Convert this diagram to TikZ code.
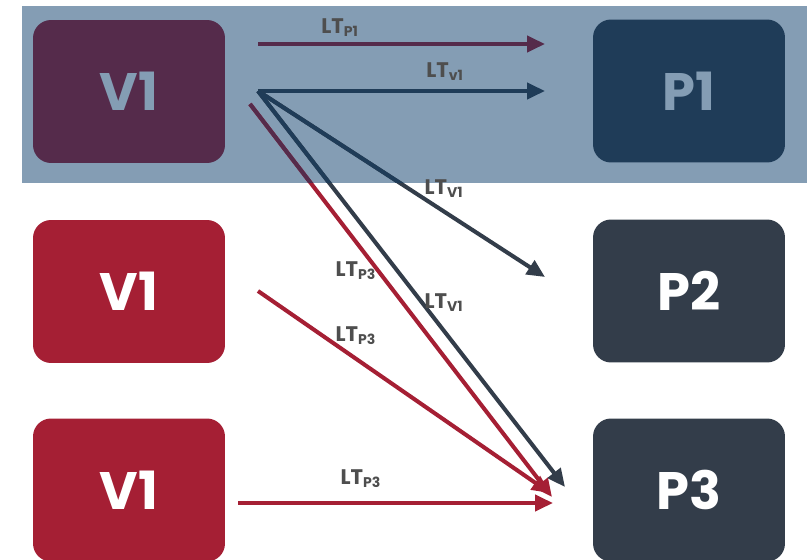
\documentclass[tikz,border=0pt]{standalone}
\usepackage{fontspec}
\setmainfont{Poppins}
\usepackage{tikz}
\usetikzlibrary{arrows.meta,positioning}
\definecolor{bandblue}{HTML}{849DB4}
\definecolor{vplum}{HTML}{552B4B}
\definecolor{pnavy}{HTML}{1F3C58}
\definecolor{vred}{HTML}{A51F34}
\definecolor{pslate}{HTML}{333D4A}
\definecolor{labelgray}{HTML}{4E4E4E}

\begin{document}
\begin{tikzpicture}[
        x=0.02cm, y=-0.02cm,
        box/.style={rounded corners=0.36cm, minimum width=3.84cm, minimum height=2.86cm, inner sep=0pt, text=white, font=\fontsize{30}{30}\selectfont\bfseries},
        lt/.style={text=labelgray, font=\fontsize{12}{12}\selectfont\bfseries, inner sep=1pt},
        link/.style={line width=2.3pt, -{Triangle[length=0.36cm, width=0.32cm]}}
    ]
        \useasboundingbox (0,0) rectangle (807,560);

        % Top band
        \coordinate (bandA) at (22,6);
        \coordinate (bandB) at (807,183);
        \fill[bandblue] (bandA) rectangle (bandB);

        % Vendor boxes
        \node[box, fill=vplum, text=bandblue] (vTop) at (129,91.5) {V1};
        \node[box, fill=vred] (vMid) at (129,291.5) {V1};
        \node[box, fill=vred] (vLow) at (129,490) {V1};

        % Plant boxes
        \node[box, fill=pnavy, text=bandblue] (pOne) at (689,91) {P1};
        \node[box, fill=pslate] (pTwo) at (689,291) {P2};
        \node[box, fill=pslate] (pThree) at (689,490) {P3};

        % Arrow ends
        \coordinate (sP1) at (258,44);   \coordinate (eP1) at (545,44);
        \coordinate (sV1) at (258,91);   \coordinate (eV1) at (545,91);
        \coordinate (eV2) at (545,277);  \coordinate (eV3) at (565,487);
        \coordinate (sR1) at (250,104);  \coordinate (eR1) at (552,497);
        \coordinate (sR2) at (258,291);  \coordinate (eR2) at (550,493);
        \coordinate (sR3) at (238,503);  \coordinate (eR3) at (553,503);

        % Lead times
        \draw[link, vplum] (sP1) -- (eP1);
        \draw[link, pnavy] (sV1) -- (eV1);
        \draw[link, pslate] (sV1) -- (eV2);
        \draw[link, pslate] (sV1) -- (eV3);
        \draw[link, vred] (sR1) -- (eR1);
        \draw[link, vred] (sR2) -- (eR2);
        \draw[link, vred] (sR3) -- (eR3);

        % Darker inside the band
        \begin{scope}
            \clip (bandA) rectangle (bandB);
            \draw[link, pnavy] (sV1) -- (eV2);
            \draw[link, pnavy] (sV1) -- (eV3);
            \draw[link, vplum] (sR1) -- (eR1);
        \end{scope}

        % Labels
        \node[lt] (lP1) at (340,28) {LT\textsubscript{P1}};
        \node[lt] (lV1) at (445,72) {LT\textsubscript{v1}};
        \node[lt] (lV2) at (444,189) {LT\textsubscript{V1}};
        \node[lt] (lV3) at (444,303) {LT\textsubscript{V1}};
        \node[lt] (lR1) at (356,271) {LT\textsubscript{P3}};
        \node[lt] (lR2) at (356,336) {LT\textsubscript{P3}};
        \node[lt] (lR3) at (361,479) {LT\textsubscript{P3}};
    \end{tikzpicture}
\end{document}
